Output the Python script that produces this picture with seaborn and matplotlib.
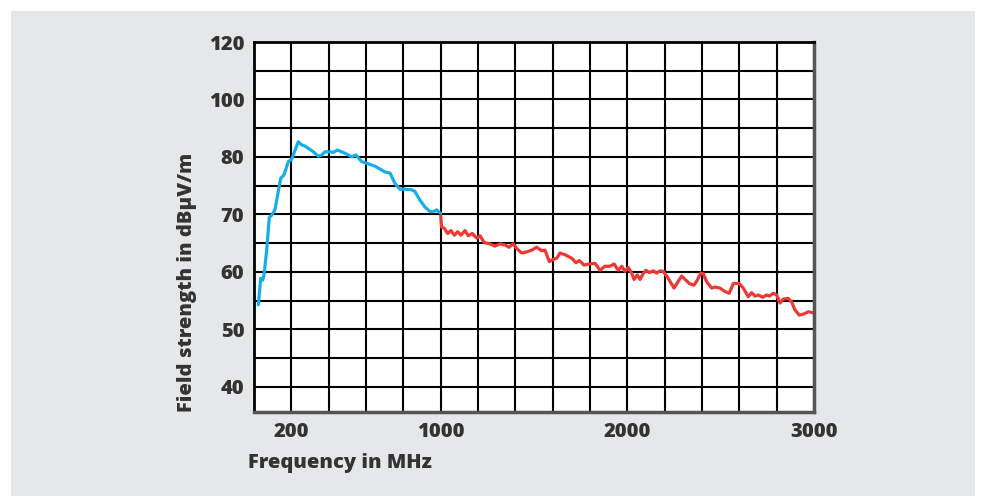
import numpy as np
import pandas as pd
import matplotlib
matplotlib.use("Agg")
import matplotlib.pyplot as plt
from matplotlib.patches import Rectangle
import seaborn as sns

# blue band: up to 1000 MHz
freq_low = [23, 36, 47, 54, 68, 82, 95, 112, 143, 161, 184, 202, 237, 256, 273, 291,
            318, 344, 363, 380, 407, 425, 446, 470, 497, 523, 546, 577, 604, 631, 648,
            675, 702, 729, 755, 782, 809, 845, 862, 889, 916, 943, 961, 979, 1000]
level_low = [54.3, 58.9, 58.6, 59.5, 63.8, 69.5, 69.9, 70.8, 76.3, 76.9, 79.2, 79.6, 85.3,
             84.2, 83.8, 83.0, 81.8, 80.3, 80.7, 81.8, 81.8, 81.6, 82.4, 81.8, 81.0, 80.1,
             80.7, 79.2, 78.9, 78.6, 78.4, 77.9, 77.4, 77.2, 75.4, 74.4, 74.4, 74.3, 74.0,
             72.5, 71.3, 70.5, 70.5, 70.8, 70.2]

# red band: 1000 - 3000 MHz
freq_high = [1000, 1005, 1019, 1038, 1055, 1073, 1091, 1109, 1130, 1148, 1169, 1193, 1211,
             1234, 1264, 1291, 1318, 1345, 1366, 1389, 1407, 1434, 1461, 1488, 1514, 1541,
             1559, 1582, 1603, 1622, 1639, 1666, 1702, 1725, 1743, 1768, 1796, 1827, 1854,
             1880, 1907, 1929, 1952, 1970, 1987, 2005, 2023, 2036, 2053, 2068, 2086, 2100,
             2118, 2139, 2157, 2175, 2193, 2219, 2250, 2291, 2332, 2357, 2375, 2393, 2407,
             2425, 2452, 2470, 2496, 2523, 2546, 2568, 2600, 2621, 2648, 2666, 2684, 2702,
             2725, 2746, 2761, 2782, 2800, 2818, 2836, 2862, 2880, 2898, 2921, 2946, 2970, 2993]
level_high = [69.8, 67.8, 67.6, 66.7, 67.2, 66.4, 67.0, 66.4, 67.2, 66.3, 66.7, 65.9, 66.3,
              65.1, 64.9, 64.5, 64.9, 64.7, 64.3, 64.9, 64.1, 63.3, 63.5, 63.8, 64.3, 63.7,
              63.8, 61.8, 62.2, 62.4, 63.3, 63.0, 62.4, 61.6, 62.0, 61.2, 61.4, 61.5, 60.3,
              61.0, 61.0, 61.4, 60.3, 61.0, 60.1, 60.8, 59.8, 58.7, 59.5, 58.7, 59.8, 60.3,
              59.9, 60.2, 59.8, 60.2, 60.1, 58.9, 57.2, 59.3, 58.0, 57.7, 58.6, 59.8, 59.7,
              58.3, 57.2, 57.4, 57.2, 56.6, 56.3, 58.0, 58.0, 57.2, 55.7, 56.4, 55.8, 56.0,
              55.6, 56.0, 55.8, 56.3, 56.0, 54.6, 55.3, 55.4, 54.8, 53.4, 52.5, 52.7, 53.1, 52.9]

y_ticks = [40, 50, 60, 70, 80, 100, 120]
y_minor = [45, 55, 65, 75, 90, 110]
x_ticks = [200, 1000, 2000, 3000]

df_low = pd.DataFrame({"Frequency": freq_low, "Level": level_low})
df_high = pd.DataFrame({"Frequency": freq_high, "Level": level_high})

sns.set_style("white")
plt.rcParams["font.family"] = ["Open Sans", "DejaVu Sans"]
plt.rcParams["font.weight"] = "heavy"

# the y axis has equally spaced ticks for uneven steps (10 dB below 80, 20 dB above)
tick_pos = np.arange(len(y_ticks), dtype=float)


def fwd(v):
    v = np.asarray(v, dtype=float)
    return np.where(v < 40, (v - 40) / 10.0, np.interp(v, y_ticks, tick_pos))


def inv(p):
    p = np.asarray(p, dtype=float)
    return np.where(p < 0, 40 + p * 10.0, np.interp(p, tick_pos, y_ticks))


fig = plt.figure(figsize=(9.81, 4.96), dpi=100)
fig.patch.set_facecolor("white")
fig.patches.append(Rectangle((11 / 981, 0), 964 / 981, 485 / 496, transform=fig.transFigure,
                             facecolor="#e6e7e8", edgecolor="none", zorder=-10))

ax = fig.add_axes([254 / 981, 1 - 412 / 496, 560 / 981, 370 / 496])
ax.set_facecolor("white")
ax.set_zorder(5)

sns.lineplot(data=df_low, x="Frequency", y="Level", color="#14aee8", linewidth=2.3, ax=ax)
sns.lineplot(data=df_high, x="Frequency", y="Level", color="#ee3833", linewidth=2.3, ax=ax)

ax.set_yscale("function", functions=(fwd, inv))
ax.set_ylim(35.65, 120)
ax.set_xlim(0, 3000)

ax.set_yticks(y_ticks)
ax.set_yticklabels([str(t) for t in y_ticks])
ax.set_yticks(y_minor, minor=True)
ax.set_yticklabels([], minor=True)
ax.set_xticks(x_ticks)
ax.set_xticklabels([str(t) for t in x_ticks])
ax.set_xticks(np.arange(200, 3000, 200), minor=True)
ax.set_xticklabels([], minor=True)

ax.grid(True, which="both", color="black", linewidth=1.5)
ax.tick_params(which="both", length=0)
ax.tick_params(axis="y", pad=7, labelsize=14.5, labelcolor="#333333")
ax.tick_params(axis="x", pad=7, labelsize=14.5, labelcolor="#333333")
for lab in ax.get_xticklabels() + ax.get_yticklabels():
    lab.set_fontweight("heavy")

ax.set_xlabel("")
ax.set_ylabel("")
for side in ["left", "top"]:
    ax.spines[side].set_color("black")
    ax.spines[side].set_linewidth(2)
for side in ["right", "bottom"]:
    ax.spines[side].set_color("#555555")
    ax.spines[side].set_linewidth(2.5)

fig.text(187 / 981, 1 - 412 / 496, "Field strength in dBµV/m", rotation=90,
         ha="center", va="bottom", fontsize=14.5, fontweight="heavy", color="#333333")
fig.text(248 / 981, 1 - 463 / 496, "Frequency in MHz", ha="left", va="center",
         fontsize=14.5, fontweight="heavy", color="#333333")

fig.savefig("out.png", dpi=100)
